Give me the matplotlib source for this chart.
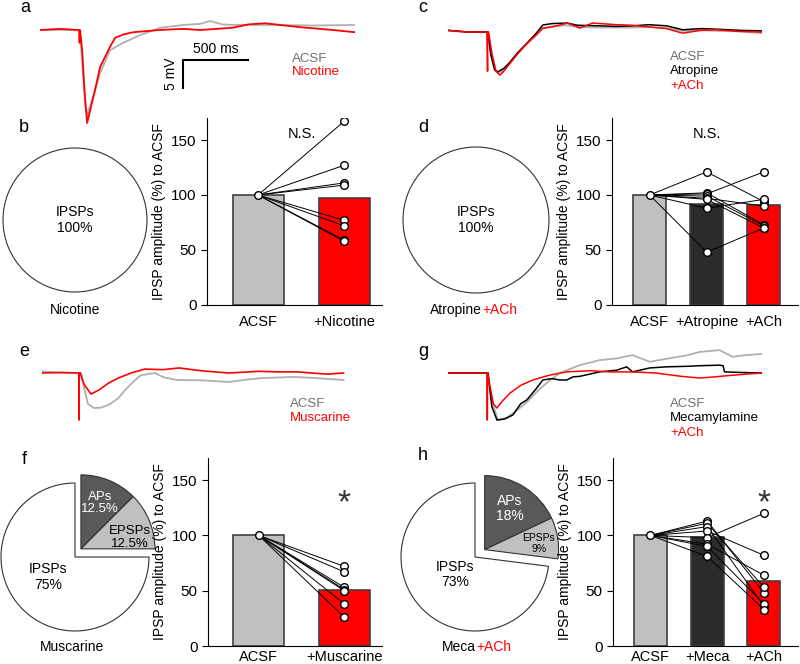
import matplotlib.pyplot as plt

plt.rcParams['font.family'] = ['Liberation Sans', 'DejaVu Sans']

W, H = 800, 664
GREY = '#b0b0b0'
LEG_GREY = '#6d6e71'
RED = '#ff0000'
DARK = '#595959'
LIGHT = '#c0c0c0'

# ---- example traces: time (ms), membrane potential (mV, relative to baseline) ----
a_acsf_t = [0, 300, 310, 330, 350, 369, 377, 420, 462, 538, 638, 770, 923, 1100, 1231, 1308, 1400, 1485, 1800, 2100, 2420]
a_acsf_v = [0, 0, -1, -8, -13.5, -15.4, -14, -11, -7.7, -3.6, -2.3, -0.9, 0.4, 0.9, 1.1, 1.6, 1.0, 0.9, 0.9, 0.8, 0.9]
a_nic_t = [0, 150, 300, 304, 308, 325, 345, 362, 420, 462, 538, 577, 640, 715, 920, 1100, 1230, 1480, 1600, 1730, 2000, 2250, 2420]
a_nic_v = [0, 0.2, 0, -2.3, 0, -4, -12, -16.6, -11, -6.6, -3, -1.4, -0.8, -0.4, 0, 0.2, 0, 0.4, 1.0, 1.2, 0.5, 0, -0.4]

c_acsf_t = [0, 150, 300, 308, 330, 360, 385, 430, 477, 540, 608, 680, 731, 800, 915, 1000, 1169, 1300, 1423, 1550, 1685, 1808, 1950, 2069, 2250, 2415]
c_acsf_v = [0.2, 0, 0, 0, -4, -6.8, -7.3, -6.8, -5.6, -3.8, -2.2, -0.6, 0.6, 1.0, 1.2, 0.9, 0.8, 0.8, 0.8, 0.9, 0.7, 0.2, 0.3, 0.2, 0.1, -0.2]
c_atro_t = [0, 150, 300, 308, 330, 360, 385, 430, 477, 540, 608, 680, 731, 800, 915, 1000, 1169, 1300, 1423, 1550, 1685, 1808, 1950, 2069, 2250, 2415]
c_atro_v = [0.3, 0, 0, 0, -4, -6.8, -7.1, -6.5, -5.4, -3.6, -2, -0.2, 1.25, 1.5, 1.6, 1.2, 1.1, 1.0, 1.1, 1.3, 1.1, 0.4, 0.6, 0.5, 0.3, 0.2]
c_ach_t = [0, 150, 300, 305, 306, 312, 340, 370, 400, 430, 477, 540, 608, 680, 731, 800, 923, 1015, 1115, 1300, 1423, 1550, 1685, 1808, 1950, 2069, 2250, 2415]
c_ach_v = [0.3, 0, 0, -7, 0, 0, -4, -7, -7.7, -7, -5.6, -3.8, -2, -0.5, 0.7, 0.9, 1.6, 0.7, 1.6, 1.3, 1.2, 0.9, 0.6, -0.2, 0.3, 0.4, 0.1, 0]

e_acsf_t = [0, 150, 300, 308, 330, 360, 408, 460, 523, 600, 654, 720, 777, 885, 960, 1062, 1250, 1469, 1600, 1731, 1985, 2150, 2369]
e_acsf_v = [0.3, 0, 0, 0, -2.5, -5.5, -6.25, -6.2, -5.7, -4.5, -3, -1.5, -0.4, 0, -0.8, -1.25, -1.3, -1.6, -1.2, -0.9, -0.7, -0.9, -1.25]
e_mus_t = [0, 150, 290, 291, 292, 300, 330, 385, 450, 523, 600, 700, 808, 950, 1077, 1250, 1469, 1700, 1854, 2000, 2238, 2369]
e_mus_v = [0, 0.1, 0, -8.4, 0, 0, -2, -3.75, -3, -1.8, -0.9, 0, 0.7, 0.6, 0.9, 0.4, 0, 0.3, 0.2, 0.2, -0.2, 0]

g_acsf_t = [0, 150, 300, 308, 338, 385, 450, 540, 608, 700, 780, 862, 1015, 1169, 1300, 1423, 1554, 1700, 1850, 1938, 2092, 2192, 2300, 2415]
g_acsf_v = [0, 0, 0, 0, -5, -8.4, -8.0, -6.5, -5.2, -3, -1.4, 0, 1.4, 2.3, 2.6, 3.2, 2.0, 2.6, 3.2, 3.75, 4.1, 2.9, 3.2, 3.4]
g_meca_t = [0, 150, 300, 308, 338, 377, 438, 500, 560, 608, 680, 731, 800, 862, 915, 962, 1015, 1169, 1300, 1377, 1423, 1554, 1685, 1850, 1938, 2092, 2120, 2131, 2250, 2415]
g_meca_v = [0, 0, 0, 0, -6, -8.4, -8.2, -7.5, -5.5, -4.8, -2.8, -1.25, -1.0, -1.25, -1.25, -0.7, -0.6, 0.2, 0.5, 1.1, 0.2, 0.9, 1.1, 1.2, 1.3, 1.4, 1.3, 0.2, 0.1, 0]
g_ach_t = [0, 150, 300, 303, 306, 320, 350, 377, 420, 477, 560, 654, 780, 915, 1100, 1250, 1423, 1600, 1800, 1938, 2050, 2192, 2300, 2415]
g_ach_v = [0, 0, 0, -8.4, 0, -2, -5.5, -6.25, -5.0, -3.6, -2.2, -1.25, -0.4, 0.2, 0.4, 0.2, 0.2, 0.0, -0.6, -0.9, -0.7, -0.4, -0.2, 0]

# ---- pies: APs, EPSPs, IPSPs (%) ----
mus_pie = [12.5, 12.5, 75]
meca_pie = [18, 9, 73]

# ---- IPSP amplitude (% of ACSF) ----
nic_labels = ['ACSF', '+Nicotine']
nic_means = [100, 97.5]
nic_drug = [167, 127, 111, 109, 77, 72, 59, 58]

atr_labels = ['ACSF', '+Atropine', '+ACh']
atr_means = [100, 92, 91]
atr_drug = [121, 102, 101, 99, 97, 96, 88, 48]
atr_ach = [94, 73, 121, 72, 90, 70, 96, 70]

mus_labels = ['ACSF', '+Muscarine']
mus_means = [100, 50.5]
mus_drug = [72, 67, 53, 51, 50, 38, 26]

mec_labels = ['ACSF', '+Meca', '+ACh']
mec_means = [100, 99, 59]
mec_drug = [113, 111, 108, 104, 98, 92, 90, 81]
mec_ach = [48, 53, 36, 82, 120, 64, 38, 33]

fig = plt.figure(figsize=(8, 6.64), dpi=100)


def box(x0, y0, x1, y1):
    # axes from pixel box (top-left origin)
    return fig.add_axes([x0 / W, 1 - y1 / H, (x1 - x0) / W, (y1 - y0) / H])


def ftext(x, y, s, **kw):
    fig.text(x / W, 1 - y / H, s, **kw)


def trace_ax(x0, x1, base, ytop, ybot):
    ax = box(x0, ytop, x1, ybot)
    ax.set_xlim(0, 2420)
    ax.set_ylim((base - ybot) / 5.6, (base - ytop) / 5.6)
    ax.axis('off')
    return ax


def bar_ax(x0, y0, x1, y1, labels, means, colors, xlim, width, pad=7):
    ax = box(x0, y0, x1, y1)
    ax.bar(range(len(means)), means, width=width, color=colors,
           edgecolor='#404040', linewidth=1.2, zorder=1)
    ax.set_xlim(xlim)
    ax.set_ylim(0, 170)
    ax.set_yticks([0, 50, 100, 150])
    ax.set_xticks(range(len(labels)), labels)
    ax.tick_params(axis='x', length=0, pad=pad, labelsize=10.5)
    ax.tick_params(axis='y', length=4, labelsize=11)
    ax.spines[['top', 'right']].set_visible(False)
    ax.set_ylabel('IPSP amplitude (%) to ACSF', fontsize=10)
    return ax


def pairs(ax, *groups):
    n = len(groups[0])
    xs = list(range(len(groups) + 1))
    for i in range(n):
        ax.plot(xs, [100] + [g[i] for g in groups], color='k', lw=0.7, zorder=2)
    ax.plot(0, 100, 'o', mfc='white', mec='k', ms=5.5, mew=1, zorder=3)
    for k, g in enumerate(groups):
        ax.plot([k + 1] * n, g, 'o', mfc='white', mec='k', ms=5.5, mew=1, zorder=3)


def pie_ax(cx, cy, r, vals, shift=(0, 0)):
    s = 1.3 * r
    ax = box(cx - s, cy - s, cx + s, cy + s)
    if len(vals) == 1:
        cols = ['white']
    else:
        cols = [DARK, LIGHT, 'white']
    wedges, _ = ax.pie(vals, colors=cols, startangle=90, counterclock=False,
                       wedgeprops=dict(edgecolor='#333333', linewidth=0.8))
    for w in wedges[:-1]:
        w.set_center(shift)
    ax.set_xlim(-1.3, 1.3)
    ax.set_ylim(-1.3, 1.3)
    return ax


# panel letters
for lab, x, y in [('a', 25, 8), ('b', 24, 128), ('c', 423, 8), ('d', 423, 128),
                  ('e', 24, 352), ('f', 24, 459), ('g', 423, 352), ('h', 423, 455)]:
    ftext(x, y, lab, fontsize=13, ha='center', va='center')

# a
ax = trace_ax(40, 355, 30, 15, 130)
ax.plot(a_acsf_t, a_acsf_v, color=GREY, lw=1.3)
ax.plot(a_nic_t, a_nic_v, color=RED, lw=1.3)
ax.plot([1100, 1100, 1600], [-10.3, -5.36, -5.36], color='k', lw=1.5)
ax.text(1350, -4.7, '500 ms', ha='center', va='bottom', fontsize=10)
ax.text(1060, -7.9, '5 mV', ha='right', va='center', rotation=90, fontsize=10)
ftext(292, 59, 'ACSF', color=LEG_GREY, fontsize=9.5, va='center')
ftext(292, 72, 'Nicotine', color=RED, fontsize=9.5, va='center')

# b
ax = pie_ax(75, 220, 72, [100])
ax.text(0, 0, 'IPSPs\n100%', ha='center', va='center', fontsize=10, linespacing=1.1)
ftext(75, 310, 'Nicotine', ha='center', va='center', fontsize=10)
ax = bar_ax(207, 118, 382, 305, nic_labels, nic_means, [LIGHT, RED], (-0.593, 1.44), 0.593)
pairs(ax, nic_drug)
ax.text(0.51, 155, 'N.S.', ha='center', va='center', fontsize=10.5)

# c
ax = trace_ax(448, 762, 32, 15, 80)
ax.plot(c_acsf_t, c_acsf_v, color=GREY, lw=1.3)
ax.plot(c_atro_t, c_atro_v, color='k', lw=1.1)
ax.plot(c_ach_t, c_ach_v, color=RED, lw=1.1)
ftext(670, 57, 'ACSF', color=LEG_GREY, fontsize=9.5, va='center')
ftext(670, 71, 'Atropine', color='k', fontsize=9.5, va='center')
ftext(670, 86, '+ACh', color=RED, fontsize=9.5, va='center')

# d
ax = pie_ax(476, 220, 73, [100])
ax.text(0, 0, 'IPSPs\n100%', ha='center', va='center', fontsize=10, linespacing=1.1)
ftext(482, 310, 'Atropine', ha='right', va='center', fontsize=10)
ftext(482, 310, '+ACh', ha='left', va='center', fontsize=10, color=RED)
ax = bar_ax(612, 118, 798, 305, atr_labels, atr_means, [LIGHT, '#2b2b2b', RED], (-0.66, 2.6), 0.58)
pairs(ax, atr_drug, atr_ach)
ax.text(1, 155, 'N.S.', ha='center', va='center', fontsize=10.5)

# e
ax = trace_ax(42, 350, 373, 355, 425)
ax.plot(e_acsf_t, e_acsf_v, color=GREY, lw=1.3)
ax.plot(e_mus_t, e_mus_v, color=RED, lw=1.2)
ftext(290, 404, 'ACSF', color=LEG_GREY, fontsize=9.5, va='center')
ftext(290, 418, 'Muscarine', color=RED, fontsize=9.5, va='center')

# f
ax = pie_ax(75, 557, 74, mus_pie, shift=(0.08, 0.11))
ax.text(0.34, 0.73, 'APs\n12.5%', ha='center', va='center', fontsize=9.5, color='white', linespacing=1.1)
ax.text(0.74, 0.26, 'EPSPs\n12.5%', ha='center', va='center', fontsize=9.5, linespacing=1.1)
ax.text(-0.36, -0.27, 'IPSPs\n75%', ha='center', va='center', fontsize=10, linespacing=1.1)
ftext(72, 647, 'Muscarine', ha='center', va='center', fontsize=10)
ax = bar_ax(208, 458, 382, 646, mus_labels, mus_means, [LIGHT, RED], (-0.593, 1.44), 0.593, pad=3)
pairs(ax, mus_drug)
ax.text(1, 129, '*', ha='center', va='center', fontsize=24, color='#333333')

# g
ax = trace_ax(448, 762, 373, 340, 425)
ax.plot(g_acsf_t, g_acsf_v, color=GREY, lw=1.3)
ax.plot(g_meca_t, g_meca_v, color='k', lw=1.1)
ax.plot(g_ach_t, g_ach_v, color=RED, lw=1.1)
ftext(670, 404, 'ACSF', color=LEG_GREY, fontsize=9.5, va='center')
ftext(670, 418, 'Mecamylamine', color='k', fontsize=9.5, va='center')
ftext(670, 433, '+ACh', color=RED, fontsize=9.5, va='center')

# h
ax = pie_ax(475, 557, 74, meca_pie, shift=(0.13, 0.1))
ax.text(0.47, 0.66, 'APs\n18%', ha='center', va='center', fontsize=10, color='white', linespacing=1.1)
ax.text(0.86, 0.18, 'EPSPs\n9%', ha='center', va='center', fontsize=7.5, linespacing=1.1)
ax.text(-0.27, -0.24, 'IPSPs\n73%', ha='center', va='center', fontsize=10, linespacing=1.1)
ftext(476, 647, 'Meca', ha='right', va='center', fontsize=10)
ftext(476, 647, '+ACh', ha='left', va='center', fontsize=10, color=RED)
ax = bar_ax(613, 458, 798, 646, mec_labels, mec_means, [LIGHT, '#2b2b2b', RED], (-0.66, 2.6), 0.58, pad=3)
pairs(ax, mec_drug, mec_ach)
ax.text(2, 129, '*', ha='center', va='center', fontsize=24, color='#333333')

fig.savefig('out.png', dpi=100)
